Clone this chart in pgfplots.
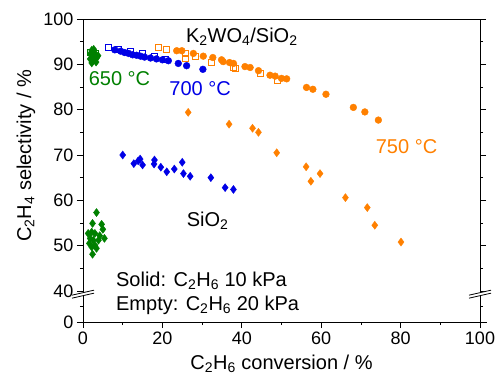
\documentclass[border=0pt]{standalone}
\usepackage{fontspec}
\setmainfont{Liberation Sans}
\usepackage{pgfplots}
\pgfplotsset{compat=1.18}
\definecolor{cgreen}{RGB}{0,128,0}
\definecolor{cblue}{RGB}{0,0,230}
\definecolor{corange}{RGB}{255,128,0}
\newcommand{\sub}[1]{\textsubscript{#1}}
\begin{document}
\begin{tikzpicture}
\begin{axis}[
  at={(0,0)}, anchor=south west,
  scale only axis, width=397pt, height=303pt,
  xmin=0, xmax=100, ymin=33.16, ymax=100,
  clip=false,
  axis line style={line width=0.8pt},
  tick style={black, line width=0.8pt},
  tick align=outside,
  major tick length=6pt, minor tick length=3pt,
  xtick={0,20,...,100}, minor xtick={10,30,50,70,90},
  ytick={33.16,40,50,60,70,80,90,100},
  yticklabels={0,40,50,60,70,80,90,100},
  minor ytick={36.58,45,55,65,75,85,95},
  xtick pos=bottom, ytick pos=both, yticklabel pos=left,
  /pgf/number format/assume math mode=true,
  tick label style={font=\fontsize{18}{18}\selectfont},
  xlabel={C\sub{2}H\sub{6} conversion / \%},
  ylabel={C\sub{2}H\sub{4} selectivity / \%},
  every axis x label/.style={at={(axis description cs:0.5,0)}, anchor=base, yshift=-47pt, font=\fontsize{20}{20}\selectfont},
  every axis y label/.style={at={(axis cs:0,69.8)}, xshift=-57pt, anchor=center, rotate=90, font=\fontsize{20}{20}\selectfont},
]
% 650 C SiO2 (diamonds)
\addplot[only marks, mark=diamond*, mark size=4pt, color=cgreen] coordinates {
(3.4,57.3)(2.4,54.9)(4.7,54.7)(1.3,52.7)(2.2,53.0)(3.0,52.7)(5.0,53.6)(5.4,51.6)(1.8,51.6)(2.6,51.2)(3.9,51.2)(3.0,50.1)(2.2,49.7)(3.4,49.4)(2.4,48.1)(1.6,50.5)(4.2,52.2)
};
% 650 C K2WO4 empty squares
\addplot[only marks, mark=square, mark size=3pt, color=cgreen, line width=0.9pt] coordinates {
(2.0,92.6)(2.6,91.8)(3.2,92.3)
};
% 650 C K2WO4 solid
\addplot[only marks, mark=diamond*, mark size=4pt, color=cgreen] coordinates {
(1.8,91.2)(2.0,92.2)(2.2,93.1)(2.5,91.6)(2.8,92.6)(3.0,91.0)(3.2,92.1)(2.4,90.6)(3.5,91.5)(2.7,93.3)(1.9,92.4)(3.3,90.5)(2.2,90.3)(3.8,91.9)
};
% 700 C K2WO4 empty squares
\addplot[only marks, mark=square, mark size=3pt, color=cblue, line width=0.9pt] coordinates {
(6.4,93.7)(9.0,93.3)(12.0,92.8)(15.0,92.3)(18.0,91.8)(20.7,91.0)
};
% 700 C K2WO4 solid circles
\addplot[only marks, mark=*, mark size=3.4pt, color=cblue] coordinates {
(8.0,93.2)(9.5,92.9)(10.5,92.6)(11.5,92.4)(12.5,92.1)(13.5,92.0)(14.5,91.8)(15.5,91.6)(17.0,91.4)(18.5,91.2)(20.0,91.0)(21.5,90.8)(24.0,90.2)(26.1,89.7)(30.2,88.9)
};
% 700 C SiO2 diamonds
\addplot[only marks, mark=diamond*, mark size=4pt, color=cblue] coordinates {
(10.0,70.0)(12.8,68.1)(13.9,68.7)(14.4,69.1)(15.0,67.8)(18.0,68.9)(17.9,68.0)(19.6,67.3)(21.1,66.3)(23.0,66.9)(25.0,68.4)(25.3,65.9)(27.0,65.3)(32.2,65.0)(35.8,62.8)(37.9,62.4)
};
% 750 C K2WO4 empty squares
\addplot[only marks, mark=square, mark size=3pt, color=corange, line width=0.9pt] coordinates {
(19.0,93.7)(20.9,93.3)(25.9,92.4)(25.7,91.3)(28.2,91.7)(32.4,90.4)(37.9,89.3)(38.3,89.0)(44.6,87.9)(48.9,86.5)
};
% 750 C K2WO4 solid circles
\addplot[only marks, mark=*, mark size=3.4pt, color=corange] coordinates {
(23.6,93.0)(24.9,93.0)(27.8,92.4)(30.3,91.8)(32.7,91.5)(34.9,91.0)(35.3,90.6)(36.9,90.4)(37.9,90.2)(40.8,89.5)(42.1,89.3)(44.2,88.6)(47.1,87.6)(48.4,87.4)(50.0,86.9)(51.3,86.8)(56.3,84.9)(57.9,84.5)(61.2,83.4)(68.1,80.5)(71.0,79.5)(74.4,77.7)
};
% 750 C SiO2 diamonds
\addplot[only marks, mark=diamond*, mark size=4pt, color=corange] coordinates {
(26.5,79.4)(36.8,76.8)(42.7,75.9)(44.2,75.0)(48.8,70.5)(56.2,67.4)(59.7,65.9)(57.4,64.2)(66.1,60.6)(71.6,58.4)(73.5,54.5)(80.1,50.8)
};
% annotations
\node[anchor=base, font=\fontsize{20}{20}\selectfont] at (axis cs:40,94.77) {K\sub{2}WO\sub{4}/SiO\sub{2}};
\node[anchor=base, font=\fontsize{20}{20}\selectfont, text=cgreen] at (axis cs:9.2,85.44) {650 °C};
\node[anchor=base, font=\fontsize{20}{20}\selectfont, text=cblue] at (axis cs:29.5,83.23) {700 °C};
\node[anchor=base, font=\fontsize{20}{20}\selectfont, text=corange] at (axis cs:81.5,70.37) {750 °C};
\node[anchor=base, font=\fontsize{20}{20}\selectfont] at (axis cs:31.4,54.33) {SiO\sub{2}};
\node[anchor=base west, inner sep=0pt, font=\fontsize{20}{20}\selectfont] at (axis cs:8.3,40.94) {Solid: C\sub{2}H\sub{6} 10 kPa};
\node[anchor=base west, inner sep=0pt, font=\fontsize{20}{20}\selectfont] at (axis cs:8.3,35.8) {Empty: C\sub{2}H\sub{6} 20 kPa};
% axis breaks (left)
\fill[white] ([xshift=-11pt,yshift=-4pt]axis cs:0,39.3) -- ([xshift=11pt,yshift=1pt]axis cs:0,39.3) -- ([xshift=11pt,yshift=4pt]axis cs:0,39.3) -- ([xshift=-11pt,yshift=-1pt]axis cs:0,39.3) -- cycle;
\draw[line width=0.8pt] ([xshift=-11pt,yshift=-1pt]axis cs:0,39.3) -- ([xshift=11pt,yshift=4pt]axis cs:0,39.3);
\draw[line width=0.8pt] ([xshift=-11pt,yshift=-4pt]axis cs:0,39.3) -- ([xshift=11pt,yshift=1pt]axis cs:0,39.3);
% axis breaks (right)
\fill[white] ([xshift=-11pt,yshift=-4pt]axis cs:100,39.3) -- ([xshift=11pt,yshift=1pt]axis cs:100,39.3) -- ([xshift=11pt,yshift=4pt]axis cs:100,39.3) -- ([xshift=-11pt,yshift=-1pt]axis cs:100,39.3) -- cycle;
\draw[line width=0.8pt] ([xshift=-11pt,yshift=-1pt]axis cs:100,39.3) -- ([xshift=11pt,yshift=4pt]axis cs:100,39.3);
\draw[line width=0.8pt] ([xshift=-11pt,yshift=-4pt]axis cs:100,39.3) -- ([xshift=11pt,yshift=1pt]axis cs:100,39.3);
\draw[line width=0.8pt] ([xshift=-5pt]rel axis cs:0,0) -- ([xshift=7pt]rel axis cs:1,0);
\end{axis}
\pgfresetboundingbox
\path (-83pt,-54pt) rectangle (415pt,322pt);
\end{tikzpicture}
\end{document}
